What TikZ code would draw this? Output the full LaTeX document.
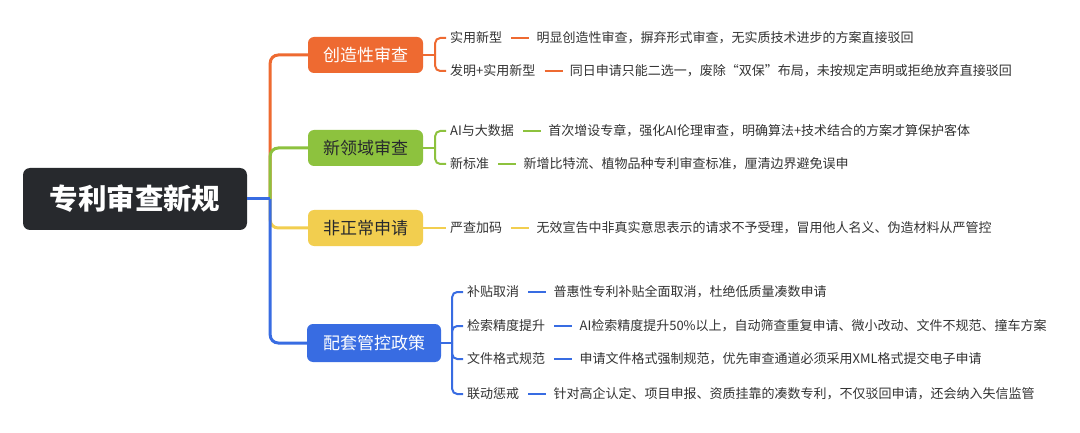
\documentclass[tikz,border=0pt]{standalone}
\usepackage{fontspec}
\setmainfont{Noto Sans CJK SC}
\usetikzlibrary{positioning}
\definecolor{MapDark}{HTML}{27292D}
\definecolor{MapOrange}{HTML}{EE6A31}
\definecolor{MapGreen}{HTML}{8DC23E}
\definecolor{MapYellow}{HTML}{F2CE4F}
\definecolor{MapBlue}{HTML}{386CE2}
\definecolor{MapText}{HTML}{333333}
\tikzset{
    rootbox/.style={
        fill=MapDark,
        rounded corners=7pt,
        minimum width=224pt,
        minimum height=62pt,
        text=white,
        font=\fontsize{28.5}{31}\selectfont\bfseries,
        inner sep=0pt
    },
    topic/.style={
        fill=#1,
        rounded corners=6pt,
        minimum width=115pt,
        minimum height=36pt,
        text=white,
        font=\fontsize{17}{20}\selectfont,
        inner sep=0pt
    },
    topic/.default=MapOrange,
    leaf/.style={
        anchor=west,
        inner xsep=4pt,
        inner ysep=2pt,
        text=MapText,
        font=\fontsize{13}{15}\selectfont
    },
    desc/.style={
        leaf
    },
    branch/.style={
        draw=#1,
        line width=3pt,
        rounded corners=8pt
    },
    twig/.style={
        draw=#1,
        line width=2pt,
        rounded corners=5pt
    },
    tie/.style={
        draw=#1,
        line width=2pt,
        shorten <=5pt,
        shorten >=3pt
    }
}
\begin{document}
\begin{tikzpicture}[x=1pt, y=-1pt]
        \fill[white] (0,0) rectangle (1080,433);
        \useasboundingbox (0,0) rectangle (1080,433);

        % Root
        \node[rootbox] (root) at (135,199) {专利审查新规};
        \coordinate (hub) at ([xshift=23pt]root.east);

        % Topics
        \node[topic=MapOrange] (b1) at (365.5,55) {创造性审查};
        \node[topic=MapGreen, text=MapDark] (b2) at (365.5,148) {新领域审查};
        \node[topic=MapYellow, text=MapDark] (b3) at (365.5,228) {非正常申请};
        \node[topic=MapBlue, minimum width=134pt, minimum height=38pt] (b4) at (374,343) {配套管控政策};

        \draw[branch=MapOrange] (hub) |- (b1);
        \draw[branch=MapGreen] (hub) |- (b2);
        \draw[branch=MapYellow] (hub) |- (b3);
        \draw[branch=MapBlue] (hub) |- (b4);
        \draw[branch=MapBlue] (root) -- (hub);

        % Creativity review
        \node[leaf] (l11) at (446,38) {实用新型};
        \node[desc, right=26pt of l11] (d11) {明显创造性审查，摒弃形式审查，无实质技术进步的方案直接驳回};
        \node[leaf] (l12) at (446,71) {发明+实用新型};
        \node[desc, right=26pt of l12] (d12) {同日申请只能二选一，废除“双保”布局，未按规定声明或拒绝放弃直接驳回};

        \coordinate (j1) at ([xshift=12pt]b1.east);
        \draw[twig=MapOrange] (b1) -- (j1);
        \draw[twig=MapOrange] (j1) |- (l11);
        \draw[twig=MapOrange] (j1) |- (l12);
        \draw[tie=MapOrange] (l11) -- (d11);
        \draw[tie=MapOrange] (l12) -- (d12);

        % New fields
        \node[leaf] (l21) at (446,131) {AI与大数据};
        \node[desc, right=26pt of l21] (d21) {首次增设专章，强化AI伦理审查，明确算法+技术结合的方案才算保护客体};
        \node[leaf] (l22) at (446,164) {新标准};
        \node[desc, right=26pt of l22] (d22) {新增比特流、植物品种专利审查标准，厘清边界避免误申};

        \coordinate (j2) at ([xshift=12pt]b2.east);
        \draw[twig=MapGreen] (b2) -- (j2);
        \draw[twig=MapGreen] (j2) |- (l21);
        \draw[twig=MapGreen] (j2) |- (l22);
        \draw[tie=MapGreen] (l21) -- (d21);
        \draw[tie=MapGreen] (l22) -- (d22);

        % Abnormal applications
        \node[leaf] (l31) at (446,228) {严查加码};
        \node[desc, right=26pt of l31] (d31) {无效宣告中非真实意思表示的请求不予受理，冒用他人名义、伪造材料从严管控};

        \draw[twig=MapYellow] (b3) -- (l31);
        \draw[tie=MapYellow] (l31) -- (d31);

        % Supporting policies
        \node[leaf] (l41) at (463,292) {补贴取消};
        \node[desc, right=26pt of l41] (d41) {普惠性专利补贴全面取消，杜绝低质量凑数申请};
        \node[leaf] (l42) at (463,326) {检索精度提升};
        \node[desc, right=26pt of l42] (d42) {AI检索精度提升50\%以上，自动筛查重复申请、微小改动、文件不规范、撞车方案};
        \node[leaf] (l43) at (463,359) {文件格式规范};
        \node[desc, right=26pt of l43] (d43) {申请文件格式强制规范，优先审查通道必须采用XML格式提交电子申请};
        \node[leaf] (l44) at (463,394) {联动惩戒};
        \node[desc, right=26pt of l44] (d44) {针对高企认定、项目申报、资质挂靠的凑数专利，不仅驳回申请，还会纳入失信监管};

        \coordinate (j4) at ([xshift=11pt]b4.east);
        \draw[twig=MapBlue] (b4) -- (j4);
        \foreach \i in {1,...,4} {
            \draw[twig=MapBlue] (j4) |- (l4\i);
            \draw[tie=MapBlue] (l4\i) -- (d4\i);
        }
    \end{tikzpicture}
\end{document}
